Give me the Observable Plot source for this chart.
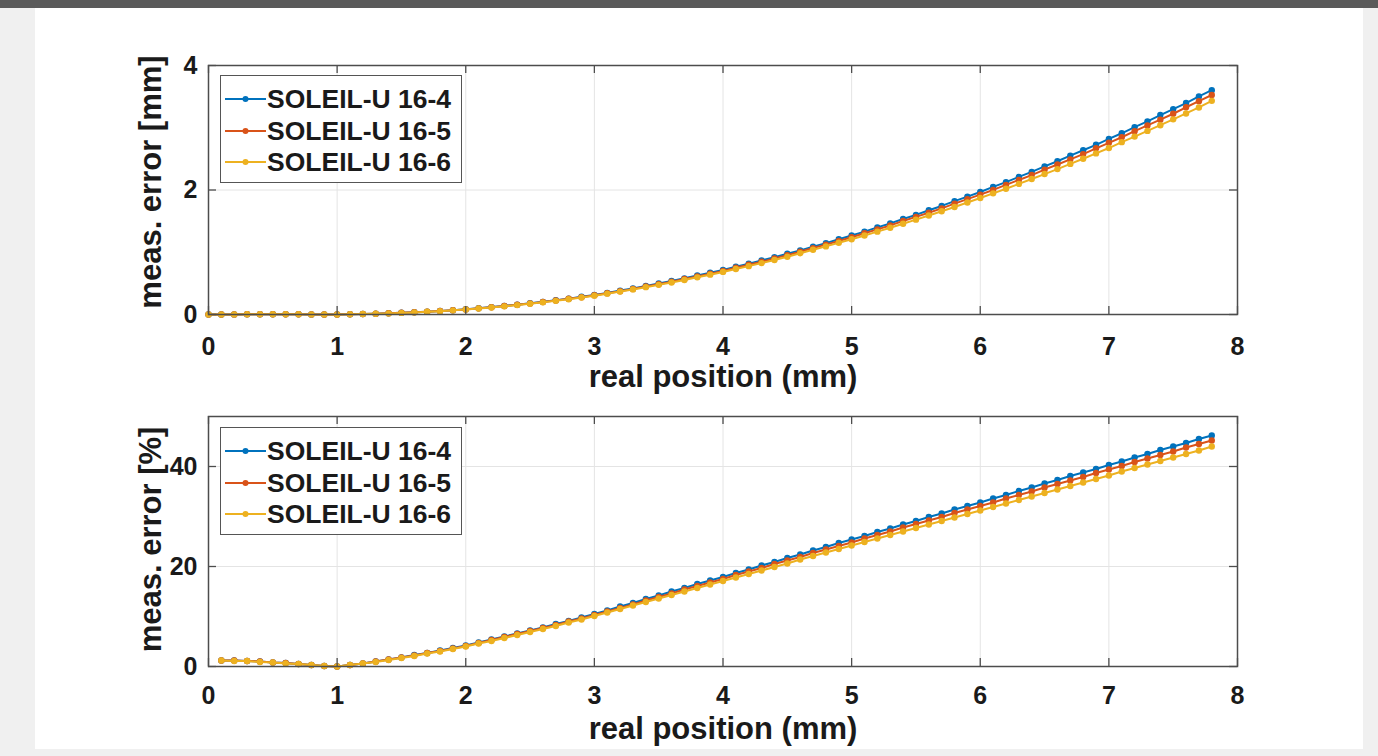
<!DOCTYPE html>
<html><head><meta charset="utf-8">
<script src="https://cdn.jsdelivr.net/npm/d3@7"></script>
<script src="https://cdn.jsdelivr.net/npm/@observablehq/plot@0.6"></script>
<style>
html,body{margin:0;padding:0;width:1378px;height:756px;overflow:hidden;background:#f0f0f0;font-family:"Liberation Sans",Arial,Helvetica,sans-serif;}
#topbar{position:absolute;left:0;top:0;width:1378px;height:8px;background:#5a5a5a;}
#panel{position:absolute;left:35px;top:8px;width:1328px;height:741px;background:#fff;}
.plot{position:absolute;left:35px;}
.plot svg{overflow:visible;}
.legend{position:absolute;left:220px;width:242px;height:108px;border:1.5px solid #555;background:#fff;box-sizing:border-box;}
.legend .row{position:absolute;left:0;height:32px;width:100%;}
.legend .row svg{position:absolute;left:2px;top:0;}
.legend .row span{position:absolute;left:46px;top:0;line-height:32px;font-size:26.5px;font-weight:bold;color:#1a1a1a;white-space:nowrap;}
</style>
</head><body>
<div id="topbar"></div>
<div id="panel"></div>
<div id="top" class="plot" style="top:8px"></div>
<div id="bottom" class="plot" style="top:403px"></div>
<div id="legTop" class="legend" style="top:75px"></div>
<div id="legBottom" class="legend" style="top:427px"></div>
<script>
// ---- data ----
const seriesNames = ["SOLEIL-U 16-4", "SOLEIL-U 16-5", "SOLEIL-U 16-6"];
const seriesColors = ["#0072BD", "#D95319", "#EDB120"];
const xTicks = [0, 1, 2, 3, 4, 5, 6, 7, 8];
const yTicksMm = [0, 2, 4];
const yTicksPct = [0, 20, 40];
const xLabel = "real position (mm)";
const yLabelMm = "meas. error [mm]";
const yLabelPct = "meas. error [%]";

// real position (mm), top panel
const xPos = [0.0,0.1,0.2,0.3,0.4,0.5,0.6,0.7,0.8,0.9,
  1.0,1.1,1.2,1.3,1.4,1.5,1.6,1.7,1.8,1.9,
  2.0,2.1,2.2,2.3,2.4,2.5,2.6,2.7,2.8,2.9,
  3.0,3.1,3.2,3.3,3.4,3.5,3.6,3.7,3.8,3.9,
  4.0,4.1,4.2,4.3,4.4,4.5,4.6,4.7,4.8,4.9,
  5.0,5.1,5.2,5.3,5.4,5.5,5.6,5.7,5.8,5.9,
  6.0,6.1,6.2,6.3,6.4,6.5,6.6,6.7,6.8,6.9,
  7.0,7.1,7.2,7.3,7.4,7.5,7.6,7.7,7.8];
// bottom panel starts at 0.1
const xPosPct = xPos.slice(1);

const mmU16_4 = [0.000,0.001,0.002,0.003,0.004,0.004,0.004,0.004,0.002,0.001,
  0.000,0.003,0.007,0.013,0.020,0.027,0.037,0.046,0.058,0.070,
  0.084,0.101,0.119,0.138,0.158,0.180,0.203,0.230,0.255,0.284,
  0.315,0.347,0.384,0.419,0.459,0.497,0.540,0.581,0.627,0.671,
  0.716,0.767,0.815,0.869,0.920,0.977,1.030,1.090,1.147,1.210,
  1.270,1.331,1.399,1.463,1.534,1.601,1.674,1.744,1.821,1.894,
  1.968,2.050,2.127,2.211,2.291,2.379,2.462,2.553,2.638,2.726,
  2.821,2.911,3.010,3.103,3.204,3.300,3.397,3.504,3.604];
const mmU16_5 = [0.000,0.001,0.002,0.003,0.004,0.004,0.004,0.004,0.002,0.001,
  0.000,0.003,0.007,0.013,0.020,0.027,0.035,0.046,0.056,0.068,
  0.082,0.099,0.117,0.136,0.156,0.178,0.200,0.224,0.252,0.278,
  0.309,0.341,0.374,0.409,0.449,0.487,0.526,0.570,0.612,0.655,
  0.700,0.750,0.798,0.847,0.902,0.954,1.007,1.067,1.123,1.181,
  1.240,1.306,1.368,1.431,1.501,1.568,1.635,1.704,1.781,1.853,
  1.926,2.001,2.083,2.161,2.240,2.327,2.409,2.492,2.577,2.670,
  2.758,2.847,2.945,3.037,3.130,3.225,3.329,3.427,3.526];
const mmU16_6 = [0.000,0.001,0.002,0.003,0.004,0.004,0.004,0.004,0.002,0.001,
  0.000,0.003,0.007,0.012,0.018,0.026,0.034,0.044,0.054,0.067,
  0.080,0.097,0.112,0.131,0.151,0.173,0.195,0.219,0.246,0.273,
  0.303,0.335,0.368,0.403,0.439,0.476,0.515,0.555,0.597,0.640,
  0.684,0.730,0.777,0.826,0.876,0.927,0.984,1.039,1.094,1.152,
  1.210,1.270,1.331,1.394,1.458,1.524,1.590,1.659,1.728,1.800,
  1.872,1.946,2.021,2.098,2.176,2.256,2.336,2.419,2.502,2.588,
  2.674,2.769,2.858,2.949,3.041,3.135,3.230,3.326,3.432];

const pctU16_4 = [1.2,1.2,1.1,1.0,0.8,0.7,0.5,0.3,0.1,0.0,
  0.3,0.6,1.0,1.4,1.8,2.3,2.7,3.2,3.7,4.2,
  4.8,5.4,6.0,6.6,7.2,7.8,8.5,9.1,9.8,10.5,
  11.2,12.0,12.7,13.5,14.2,15.0,15.7,16.5,17.2,17.9,
  18.7,19.4,20.2,20.9,21.7,22.4,23.2,23.9,24.7,25.4,
  26.1,26.9,27.6,28.4,29.1,29.9,30.6,31.4,32.1,32.8,
  33.6,34.3,35.1,35.8,36.6,37.3,38.1,38.8,39.5,40.3,
  41.0,41.8,42.5,43.3,44.0,44.7,45.5,46.2];
const pctU16_5 = [1.2,1.2,1.1,1.0,0.8,0.7,0.5,0.3,0.1,0.0,
  0.3,0.6,1.0,1.4,1.8,2.2,2.7,3.1,3.6,4.1,
  4.7,5.3,5.9,6.5,7.1,7.7,8.3,9.0,9.6,10.3,
  11.0,11.7,12.4,13.2,13.9,14.6,15.4,16.1,16.8,17.5,
  18.3,19.0,19.7,20.5,21.2,21.9,22.7,23.4,24.1,24.8,
  25.6,26.3,27.0,27.8,28.5,29.2,29.9,30.7,31.4,32.1,
  32.8,33.6,34.3,35.0,35.8,36.5,37.2,37.9,38.7,39.4,
  40.1,40.9,41.6,42.3,43.0,43.8,44.5,45.2];
const pctU16_6 = [1.2,1.1,1.1,0.9,0.8,0.6,0.5,0.3,0.1,0.0,
  0.3,0.6,0.9,1.3,1.7,2.1,2.6,3.0,3.5,4.0,
  4.6,5.1,5.7,6.3,6.9,7.5,8.1,8.8,9.4,10.1,
  10.8,11.5,12.2,12.9,13.6,14.3,15.0,15.7,16.4,17.1,
  17.8,18.5,19.2,19.9,20.6,21.4,22.1,22.8,23.5,24.2,
  24.9,25.6,26.3,27.0,27.7,28.4,29.1,29.8,30.5,31.2,
  31.9,32.6,33.3,34.0,34.7,35.4,36.1,36.8,37.5,38.2,
  39.0,39.7,40.4,41.1,41.8,42.5,43.2,44.0];

// ---- drawing ----
const W = 1328, ML = 173, MR = 126;
const frameColor = "#4d4d4d";
const gridColor = "#e4e4e4";
const fontFamily = '"Liberation Sans", Arial, Helvetica, sans-serif';

function makePlot({xs, values, yDomain, yTicks, yLabel, height, marginTop, marginBottom, titleDy, yLabelDy, tickPad}) {
  const innerW = W - ML - MR;
  const innerH = height - marginTop - marginBottom;
  const marks = [
    Plot.gridX(xTicks, {stroke: gridColor, strokeOpacity: 1, strokeWidth: 1}),
    Plot.gridY(yTicks, {stroke: gridColor, strokeOpacity: 1, strokeWidth: 1})
  ];
  values.forEach((vals, i) => {
    const data = xs.map((x, j) => ({x, y: vals[j]}));
    marks.push(Plot.line(data, {x: "x", y: "y", stroke: seriesColors[i], strokeWidth: 2}));
    marks.push(Plot.dot(data, {x: "x", y: "y", r: 3.2, fill: seriesColors[i], stroke: "none"}));
  });
  marks.push(
    Plot.ruleX(xTicks, {x: d => d, stroke: frameColor, strokeWidth: 1.3, insetTop: innerH - 8}),
    Plot.ruleX(xTicks, {x: d => d, stroke: frameColor, strokeWidth: 1.3, insetBottom: innerH - 8}),
    Plot.ruleY(yTicks, {y: d => d, stroke: frameColor, strokeWidth: 1.3, insetRight: innerW - 8}),
    Plot.ruleY(yTicks, {y: d => d, stroke: frameColor, strokeWidth: 1.3, insetLeft: innerW - 8}),
    Plot.frame({stroke: frameColor, strokeWidth: 1.5}),
    Plot.axisX(xTicks, {tickSize: 0, tickPadding: tickPad, fontSize: 25, fontWeight: "bold", label: null, tickFormat: d => String(d)}),
    Plot.axisY(yTicks, {tickSize: 0, tickPadding: 11, fontSize: 25, fontWeight: "bold", label: null, tickFormat: d => String(d)}),
    Plot.text([xLabel], {text: d => d, frameAnchor: "bottom", textAnchor: "middle", lineAnchor: "middle", dy: titleDy, fontSize: 31, fontWeight: "bold", fill: "#1a1a1a"}),
    Plot.text([yLabel], {text: d => d, frameAnchor: "left", textAnchor: "middle", lineAnchor: "middle", dx: -57, dy: yLabelDy, rotate: -90, fontSize: 31, fontWeight: "bold", fill: "#1a1a1a"})
  );
  return Plot.plot({
    width: W, height, marginLeft: ML, marginRight: MR, marginTop, marginBottom,
    x: {domain: [0, 8]},
    y: {domain: yDomain},
    style: {fontFamily, color: "#1a1a1a", background: "transparent", overflow: "visible"},
    marks
  });
}

document.getElementById("top").appendChild(makePlot({
  xs: xPos, values: [mmU16_4, mmU16_5, mmU16_6], yDomain: [0, 4], yTicks: yTicksMm,
  yLabel: yLabelMm, height: 395, marginTop: 57, marginBottom: 89, titleDy: 63, yLabelDy: -8, tickPad: 23
}));
document.getElementById("bottom").appendChild(makePlot({
  xs: xPosPct, values: [pctU16_4, pctU16_5, pctU16_6], yDomain: [0, 50], yTicks: yTicksPct,
  yLabel: yLabelPct, height: 346, marginTop: 13, marginBottom: 83, titleDy: 63, yLabelDy: -2, tickPad: 20
}));

function buildLegend(id) {
  const el = document.getElementById(id);
  seriesNames.forEach((name, i) => {
    const row = document.createElement("div");
    row.className = "row";
    row.style.top = (7 + i * 31.5) + "px";
    row.innerHTML = `<svg width="44" height="32"><line x1="2" x2="43" y1="16" y2="16" stroke="${seriesColors[i]}" stroke-width="2"/><circle cx="22.5" cy="16" r="3" fill="${seriesColors[i]}"/></svg><span>${name}</span>`;
    el.appendChild(row);
  });
}
buildLegend("legTop");
buildLegend("legBottom");
</script>
</body></html>
